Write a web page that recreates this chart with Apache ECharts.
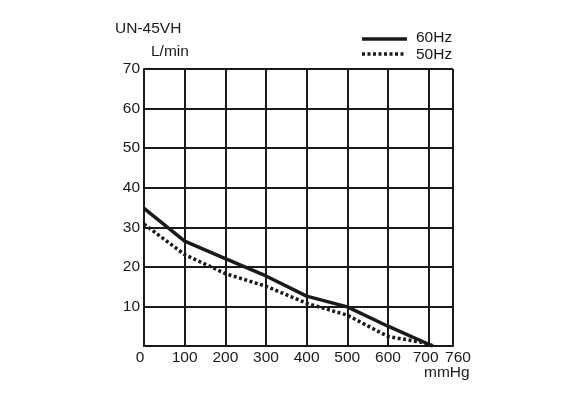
<!DOCTYPE html>
<html>
<head>
<meta charset="utf-8">
<script src="https://cdn.jsdelivr.net/npm/echarts@6/dist/echarts.min.js"></script>
<style>
  html, body { margin: 0; padding: 0; background: #fff; }
  #chart { width: 587px; height: 398px; }
</style>
</head>
<body>
<div id="chart"></div>
<script>
// 流量曲线 (mmHg -> L/min)
const hz60 = [[0, 34.8], [100, 26.5], [200, 22.1], [300, 17.7], [400, 12.6], [500, 9.9], [600, 5.0], [710, 0]]
const hz50 = [[0, 30.8], [100, 23.1], [200, 18.3], [300, 15.1], [400, 10.8], [500, 7.8], [600, 2.4], [680, 1.0], [712, 0]]
const xMax = 760
const yMax = 70

const chart = echarts.init(document.getElementById('chart'))
const font = 'Liberation Sans, Arial, sans-serif'
const fs = 15.5

chart.setOption({
    animation: false,
    backgroundColor: '#fff',
    grid: { left: 144, right: 134, top: 69, bottom: 52 },
    xAxis: {
        type: 'value',
        min: 0,
        max: xMax,
        interval: 100,
        axisLine: { show: true, lineStyle: { color: '#1a1a1a', width: 2 } },
        axisTick: { show: false },
        axisLabel: {
            color: '#1a1a1a', fontSize: fs, fontFamily: font, margin: 4, showMaxLabel: true,
            formatter: v => v === 0 ? '{l|0}' : v === 700 ? '{m|700}' : v === xMax ? '{r|760}' : String(v),
            rich: {
                l: { fontSize: fs, fontFamily: font, color: '#1a1a1a', padding: [0, 8, 0, 0] },
                m: { fontSize: fs, fontFamily: font, color: '#1a1a1a', padding: [0, 6, 0, 0] },
                r: { fontSize: fs, fontFamily: font, color: '#1a1a1a', padding: [0, 0, 0, 10] }
            }
        },
        splitLine: { show: true, lineStyle: { color: '#1a1a1a', width: 2 } }
    },
    yAxis: {
        type: 'value',
        min: 0,
        max: yMax,
        interval: 10,
        axisLine: { show: true, lineStyle: { color: '#1a1a1a', width: 2 } },
        axisTick: { show: false },
        axisLabel: {
            color: '#1a1a1a', fontSize: fs, fontFamily: font, margin: 4,
            formatter: v => v === 0 ? '' : v
        },
        splitLine: { show: true, lineStyle: { color: '#1a1a1a', width: 2 } }
    },
    graphic: [
        { type: 'text', left: 115, top: 21, style: { text: 'UN-45VH', fontSize: fs, fontFamily: font, fill: '#1a1a1a' } },
        { type: 'text', left: 151, top: 44, style: { text: 'L/min', fontSize: fs, fontFamily: font, fill: '#1a1a1a' } },
        { type: 'text', left: 424, top: 365, style: { text: 'mmHg', fontSize: fs, fontFamily: font, fill: '#1a1a1a' } },
        { type: 'line', shape: { x1: 362, y1: 39, x2: 407, y2: 39 }, style: { stroke: '#1a1a1a', lineWidth: 3.5 } },
        { type: 'line', shape: { x1: 362, y1: 54, x2: 406, y2: 54 }, style: { stroke: '#1a1a1a', lineWidth: 3.5, lineDash: [3, 2.5] } },
        { type: 'text', left: 416, top: 30, style: { text: '60Hz', fontSize: fs, fontFamily: font, fill: '#1a1a1a' } },
        { type: 'text', left: 416, top: 47, style: { text: '50Hz', fontSize: fs, fontFamily: font, fill: '#1a1a1a' } }
    ],
    series: [
        {
            name: '60Hz', type: 'line', data: hz60, symbol: 'none',
            lineStyle: { color: '#1a1a1a', width: 3.5 }
        },
        {
            name: '50Hz', type: 'line', data: hz50, symbol: 'none',
            lineStyle: { color: '#1a1a1a', width: 3.5, type: [3, 2.5] }
        }
    ]
})
</script>
</body>
</html>
